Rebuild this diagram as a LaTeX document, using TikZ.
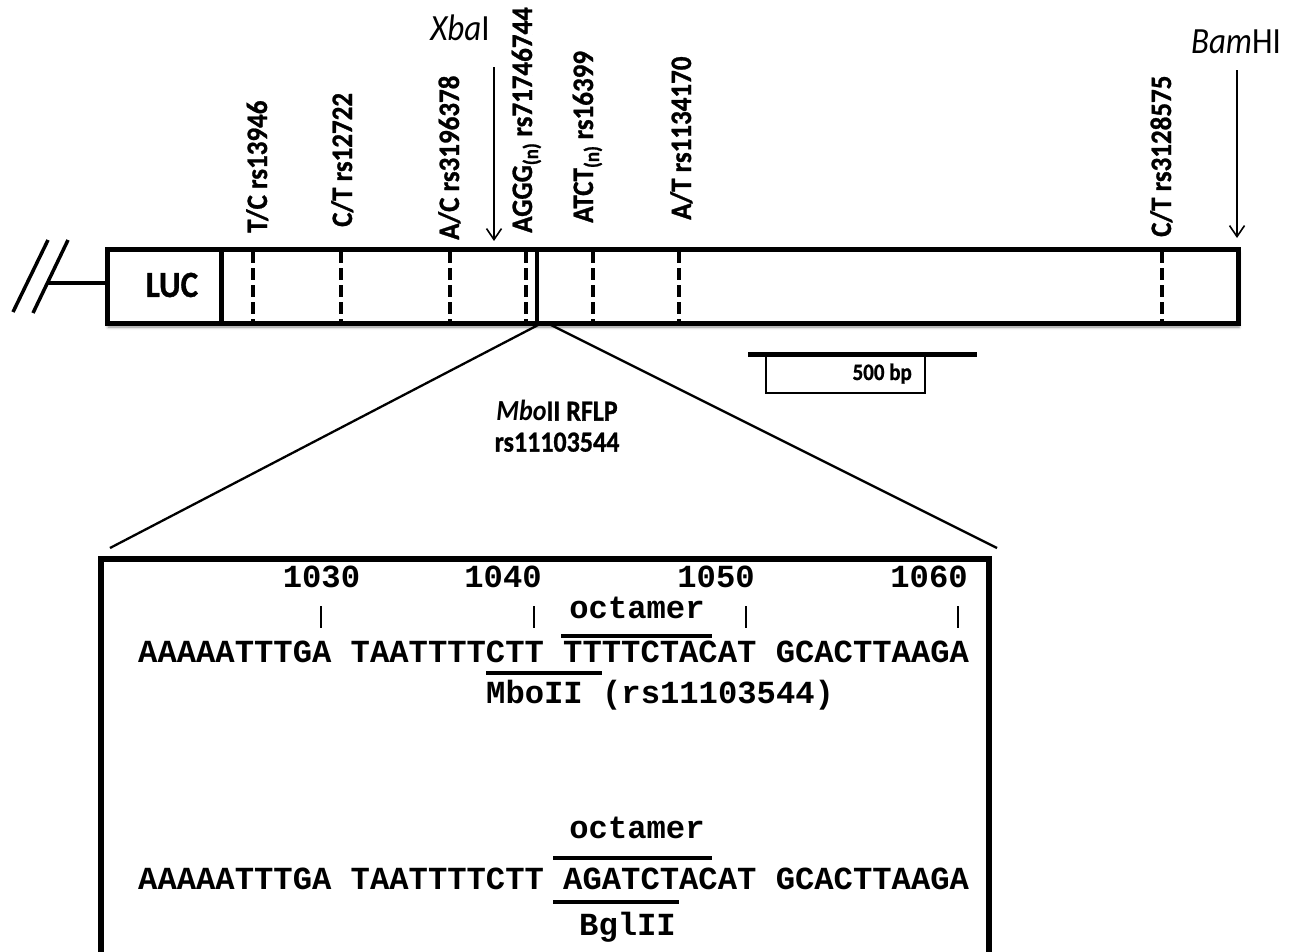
\documentclass[tikz,border=0pt]{standalone}
\usepackage{fontspec}
\usepackage{graphicx}
\setmainfont{Carlito}
\newfontfamily\lblfont[BoldFeatures={FakeBold=1}]{Carlito}
\newfontfamily\seqfont[WordSpace={1,0,0}]{Liberation Mono}
\usetikzlibrary{arrows.meta, shadows.blur}

% taller glyphs, as in the original artwork
\newcommand{\tallA}[1]{\scalebox{1}[1.1]{#1}}
\newcommand{\tallB}[1]{\scalebox{1}[1.12]{#1}}

\begin{document}
\begin{tikzpicture}[
    x=1pt, y=-1pt,
    box/.style={line width=5pt},
    snpline/.style={line width=4.5pt, dash pattern=on 12pt off 5pt},
    snplabel/.style={rotate=90, anchor=base west, inner sep=0pt, font=\lblfont\bfseries\fontsize{27}{30}\selectfont},
    site/.style={anchor=base, inner sep=0pt, font=\fontsize{33}{36}\selectfont},
    cut/.style={line width=1.6pt, -{Straight Barb[length=11pt, width=15pt]}},
    zoomline/.style={line width=2.3pt},
    seq/.style={anchor=base west, inner sep=0pt, font=\seqfont\bfseries\fontsize{32.2}{36}\selectfont},
    seqbar/.style={line width=3.5pt},
    tick/.style={line width=2.5pt},
]
\clip (0,0) rectangle (1298,951);

% vector end
\draw[line width=3.5pt] (13,312) -- (48,240);
\draw[line width=3.5pt] (33,313) -- (68,240);
\draw[line width=3.5pt] (47,283) -- (107,283);

% construct
\node[draw, box, fill=white, minimum width=1131pt, minimum height=74pt, inner sep=0pt,
      blur shadow={shadow xshift=1pt, shadow yshift=-4pt, shadow blur radius=3pt, shadow opacity=45}] (gene) at (672.5,286) {};
\draw[box] (221,249) -- (221,323);
\node[font=\lblfont\bfseries\fontsize{33}{36}\selectfont, inner sep=0pt] (luc) at (172,285) {\tallB{LUC}};

\foreach \x in {253,341,450,526,593,679,1162}
    \draw[snpline] (\x,251) -- (\x,321);
\draw[line width=4pt] (537,249) -- (537,323);

% polymorphisms
\node[snplabel] (tc13946) at (267,233) {\tallA{T/C rs13946}};
\node[snplabel] (ct12722) at (352,227) {\tallA{C/T rs12722}};
\node[snplabel] (ac3196378) at (459,240) {\tallA{A/C rs3196378}};
\node[snplabel] (aggg) at (532,233) {\tallA{AGGG\textsubscript{(n)} rs71746744}};
\node[snplabel] (atct) at (593,223) {\tallA{ATCT\textsubscript{(n)} rs16399}};
\node[snplabel] (at1134170) at (691,220) {\tallA{A/T rs1134170}};
\node[snplabel] (ct3128575) at (1171,237) {\tallA{C/T rs3128575}};

% restriction sites
\node[site] (xba) at (460,40) {\tallB{\textit{Xba}I}};
\node[site] (bam) at (1236,53) {\tallB{\textit{Bam}HI}};
\coordinate (xbatop) at (494,67);
\coordinate (xbatip) at (494,241);
\coordinate (bamtop) at (1237,70);
\coordinate (bamtip) at (1237,238);
\draw[cut] (xbatop) -- (xbatip);
\draw[cut] (bamtop) -- (bamtip);

% scale bar
\draw[line width=5pt] (748,354) -- (977,354);
\draw[line width=1.3pt] (766,356) rectangle (925,393);
\node[anchor=base east, inner sep=0pt, font=\lblfont\bfseries\fontsize{21}{24}\selectfont] (scale) at (912,380) {\tallB{500 bp}};

\node[align=center, font=\lblfont\bfseries\fontsize{26}{31}\selectfont] (mbo) at (557,426) {\tallB{\textit{Mbo}II RFLP}\\\tallB{rs11103544}};

% zoom
\coordinate (zoomL) at (540,324);
\coordinate (zoomR) at (549,324);
\coordinate (seqTL) at (110,548);
\coordinate (seqTR) at (997,548);
\draw[zoomline] (zoomL) -- (seqTL);
\draw[zoomline] (zoomR) -- (seqTR);

\draw[line width=5.5pt] (101,975) -- (101,559) -- (989,559) -- (989,975);

% numbering
\node[seq, anchor=base] (n1030) at (321.5,587) {1030};
\node[seq, anchor=base] (n1040) at (503,587) {1040};
\node[seq, anchor=base] (n1050) at (716,587) {1050};
\node[seq, anchor=base] (n1060) at (929,587) {1060};
\foreach \x in {321,534,746,958}
    \draw[tick] (\x,606) -- (\x,628);

% wild type
\node[seq, anchor=base] (oct1) at (637,618) {octamer};
\draw[seqbar] (561,636) -- (712,636);
\node[seq] (row1) at (138,662) {AAAAATTTGA TAATTTTCTT TTTTCTACAT GCACTTAAGA};
\draw[seqbar] (486,673) -- (602,673);
\node[seq] (mbosite) at (486,703) {MboII (rs11103544)};

% mutant
\node[seq, anchor=base] (oct2) at (637,838) {octamer};
\draw[seqbar] (553,858) -- (712,858);
\node[seq] (row2) at (138,889) {AAAAATTTGA TAATTTTCTT AGATCTACAT GCACTTAAGA};
\draw[seqbar] (553,902) -- (679,902);
\node[seq] (bgl) at (579,935) {BglII};

\end{tikzpicture}
\end{document}
